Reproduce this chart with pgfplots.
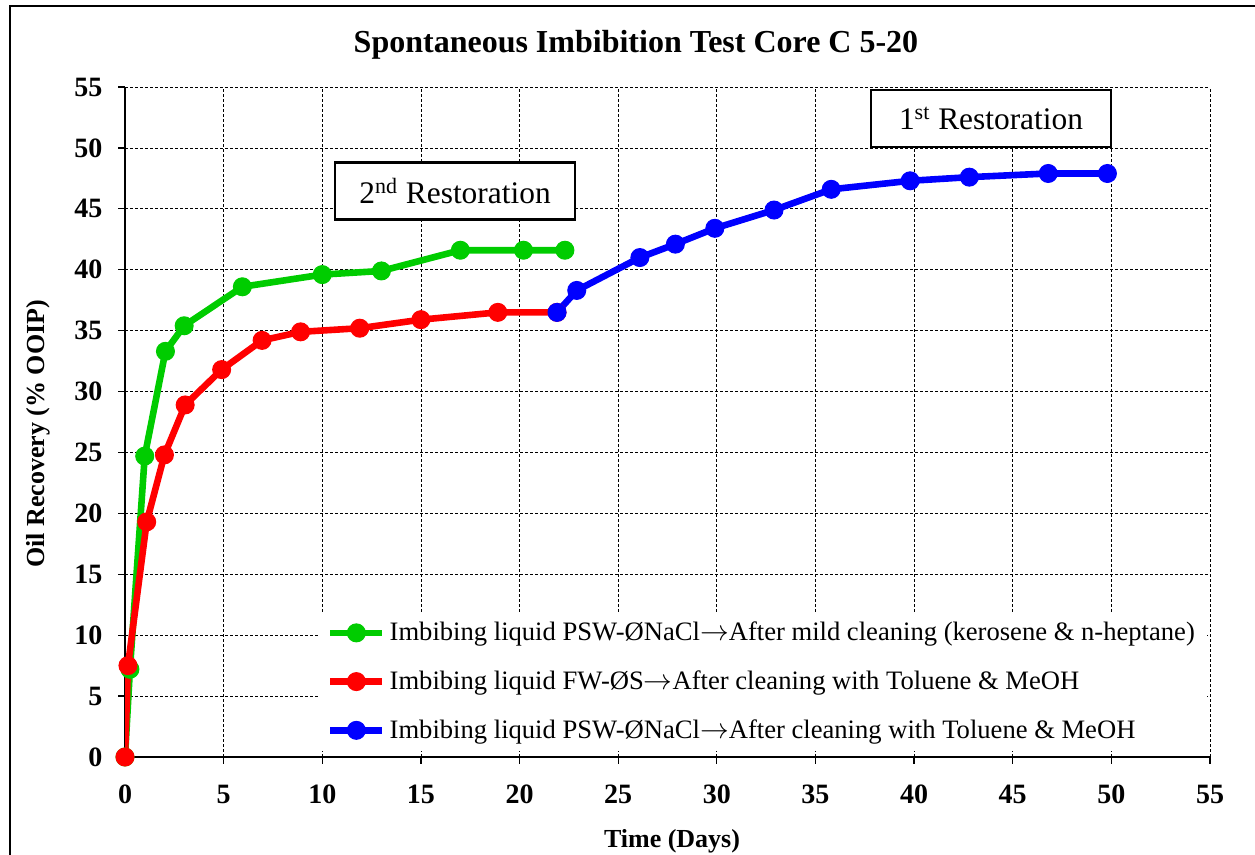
\documentclass[border=0pt]{standalone}
\usepackage{fontspec}
\setmainfont{Liberation Serif}
\usepackage{pgfplots}
\pgfplotsset{compat=1.18}
\definecolor{cgreen}{RGB}{0,204,0}
\definecolor{cred}{RGB}{255,0,0}
\definecolor{cblue}{RGB}{0,0,255}
\newcommand{\arr}{\ensuremath{\rightarrow}}
\begin{document}
\begin{tikzpicture}
\path[use as bounding box] (0,0) rectangle (627.5pt,-427.5pt);
\draw[line width=1.1pt] (5pt,-440pt) -- (5pt,-3pt) -- (640pt,-3pt);
\node[font=\bfseries\fontsize{16}{19}\selectfont] at (318pt,-22.5pt) {Spontaneous Imbibition Test Core C 5-20};
\node[font=\bfseries\fontsize{13}{15}\selectfont] at (336pt,-420.5pt) {Time (Days)};
\node[rotate=90, font=\bfseries\fontsize{13}{15}\selectfont] at (19pt,-217pt) {Oil Recovery (\% OOIP)};
\begin{axis}[
 at={(62.5pt,-378.5pt)}, anchor=south west,
 scale only axis, width=542.5pt, height=335pt,
 xmin=0,xmax=55,ymin=0,ymax=55,
 xtick={0,5,...,55}, ytick={0,5,...,55},
 axis lines*=left,
 axis line style={line width=0.6pt},
 tick align=outside, major tick length=3.5pt,
 tick style={black, line width=0.6pt},
 grid=major,
 grid style={black, line width=0.4pt, dash pattern=on 1.5pt off 1pt},
 /pgf/number format/assume math mode=true,
 ticklabel style={font=\bfseries\fontsize{14}{14}\selectfont},
 xticklabel style={yshift=-7pt},
 yticklabel style={xshift=-4.3pt},
 legend style={at={(0.1785,0.217)}, anchor=north west, draw=none, fill=white,
   font=\fontsize{13.3}{16}\selectfont, row sep=9.5pt, inner xsep=4pt, inner ysep=3pt},
 legend cell align=left,
 legend image code/.code={\draw[#1, mark repeat=2, mark phase=2] plot coordinates {(0pt,0pt) (13pt,0pt) (26pt,0pt)};},
]
\addplot[cgreen, line width=3.3pt, mark=*, mark size=4.5pt, mark options={solid, line width=0.5pt}] coordinates {
(0,0) (0.25,7.2) (1.0,24.7) (2.05,33.3) (3.0,35.4) (5.95,38.6) (10,39.6) (13,39.9) (17,41.6) (20.2,41.6) (22.3,41.6)};
\addlegendentry{Imbibing liquid PSW-ØNaCl\arr After mild cleaning (kerosene \& n-heptane)}
\addplot[cred, line width=3.3pt, mark=*, mark size=4.5pt, mark options={solid, line width=0.5pt}] coordinates {
(0,0) (0.15,7.5) (1.1,19.3) (2.0,24.8) (3.05,28.9) (4.9,31.8) (6.95,34.2) (8.9,34.9) (11.9,35.2) (15.0,35.9) (18.9,36.5) (21.9,36.5)};
\addlegendentry{Imbibing liquid FW-ØS\arr After cleaning with Toluene \& MeOH}
\addplot[cblue, line width=3.3pt, mark=*, mark size=4.5pt, mark options={solid, line width=0.5pt}] coordinates {
(21.9,36.5) (22.9,38.3) (26.1,41.0) (27.9,42.1) (29.9,43.4) (32.9,44.9) (35.8,46.6) (39.8,47.3) (42.8,47.6) (46.8,47.9) (49.8,47.9)};
\addlegendentry{Imbibing liquid PSW-ØNaCl\arr After cleaning with Toluene \& MeOH}
\node[draw, line width=1.1pt, fill=white, minimum width=120pt, minimum height=28.5pt, inner sep=0pt, font=\fontsize{15.7}{18}\selectfont] at (axis cs:16.73,46.46) {2\textsuperscript{nd} Restoration};
\node[draw, line width=1.1pt, fill=white, minimum width=120pt, minimum height=28.5pt, inner sep=0pt, font=\fontsize{15.7}{18}\selectfont] at (axis cs:43.9,52.4) {1\textsuperscript{st} Restoration};
\end{axis}
\end{tikzpicture}
\end{document}
